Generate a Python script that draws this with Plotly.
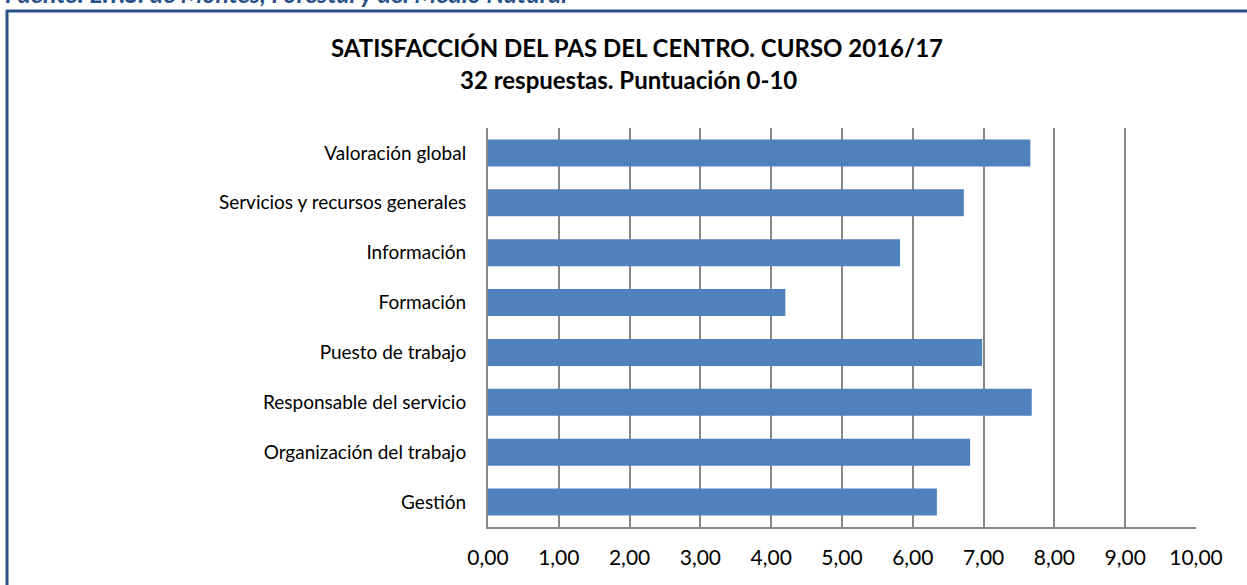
import plotly.graph_objects as go

categories = [
    "Gestión",
    "Organización del trabajo",
    "Responsable del servicio",
    "Puesto de trabajo",
    "Formación",
    "Información",
    "Servicios y recursos generales",
    "Valoración global",
]
values = [6.34, 6.81, 7.68, 6.98, 4.20, 5.82, 6.72, 7.66]
x_ticks = [0, 1, 2, 3, 4, 5, 6, 7, 8, 9, 10]
x_tick_labels = ["0,00", "1,00", "2,00", "3,00", "4,00", "5,00", "6,00", "7,00", "8,00", "9,00", "10,00"]

W, H = 1247, 585
L, R, T, B = 488, 51, 128, 58
PW, PH = W - L - R, H - T - B

def px_x(p):
    return (p - L) / PW

def px_y(p):
    return 1 + (T - p) / PH

fig = go.Figure(go.Bar(
    x=values, y=categories, orientation="h",
    marker=dict(color="#4F81BD", line=dict(width=0)),
))

fig.update_layout(
    width=W, height=H,
    margin=dict(l=L, r=R, t=T, b=B),
    paper_bgcolor="white", plot_bgcolor="white",
    bargap=0.46,
    showlegend=False,
    font=dict(family="Lato, sans-serif", color="#000000"),
    xaxis=dict(
        range=[0, 10], tickvals=x_ticks, ticktext=x_tick_labels,
        showgrid=True, gridcolor="#878787", gridwidth=2,
        showline=True, linecolor="#878787", linewidth=2,
        zeroline=False, ticks="",
        tickfont=dict(size=21, family="Lato, sans-serif", color="#000"),
        ticklabelstandoff=11, fixedrange=True,
    ),
    yaxis=dict(
        showgrid=False, showline=True, linecolor="#878787", linewidth=2,
        ticks="", tickfont=dict(size=19, family="Lato, sans-serif", color="#000"),
        ticklabelstandoff=16, fixedrange=True,
    ),
    annotations=[
        dict(text="<b>SATISFACCIÓN DEL PAS DEL CENTRO. CURSO 2016/17</b>",
             xref="paper", yref="paper", x=px_x(637), y=px_y(47),
             xanchor="center", yanchor="middle", showarrow=False,
             font=dict(size=24, family="Lato, sans-serif", color="#000")),
        dict(text="<b>32 respuestas. Puntuación 0-10</b>",
             xref="paper", yref="paper", x=px_x(628), y=px_y(79),
             xanchor="center", yanchor="middle", showarrow=False,
             font=dict(size=24, family="Lato, sans-serif", color="#000")),
        dict(text="<b><i>Fuente: E.T.S. de Montes, Forestal y del Medio Natural</i></b>",
             xref="paper", yref="paper", x=px_x(3), y=px_y(10),
             xanchor="left", yanchor="bottom", showarrow=False,
             font=dict(size=25, family="Lato, sans-serif", color="#2B5287")),
    ],
    shapes=[
        dict(type="line", xref="paper", yref="paper",
             x0=px_x(6), x1=px_x(1260), y0=px_y(11), y1=px_y(11),
             line=dict(color="#2B5287", width=3)),
        dict(type="line", xref="paper", yref="paper",
             x0=px_x(7), x1=px_x(7), y0=px_y(10), y1=px_y(600),
             line=dict(color="#2B5287", width=3)),
    ],
)

fig.write_html("out.html", config={"displayModeBar": False})

with open("out.html", "r", encoding="utf-8") as f:
    html = f.read()
html = html.replace("<head>", "<head><style>html,body{margin:0;padding:0;overflow:hidden;}</style>", 1)
with open("out.html", "w", encoding="utf-8") as f:
    f.write(html)
